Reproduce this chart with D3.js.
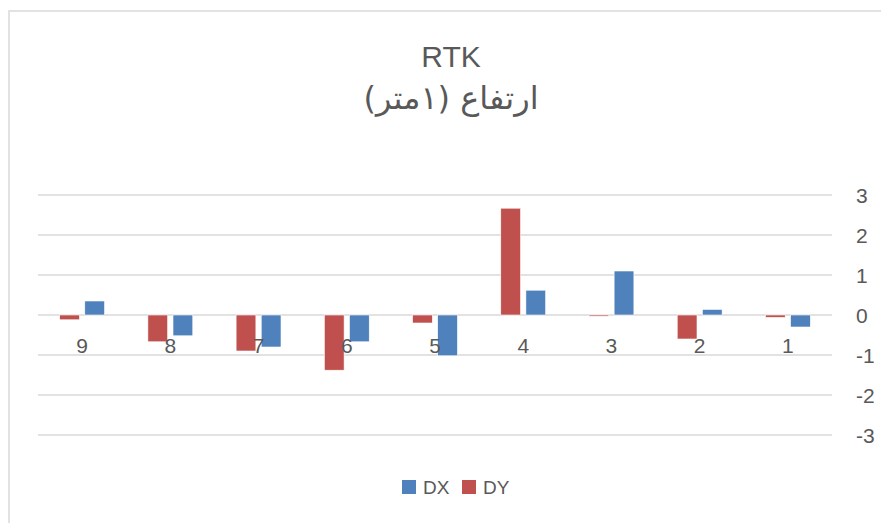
<!DOCTYPE html>
<html>
<head>
<meta charset="utf-8">
<script src="https://cdn.jsdelivr.net/npm/d3@7"></script>
<style>
  html, body { margin: 0; padding: 0; background: #fff; }
  svg { display: block; }
  text { font-family: "Liberation Sans", Arial, sans-serif; fill: #595959; }
</style>
</head>
<body>
<div id="chart"></div>
<script>
const categories = ["1", "2", "3", "4", "5", "6", "7", "8", "9"];
const seriesNames = ["DX", "DY"];
const dxValues = [-0.3, 0.14, 1.1, 0.62, -1.02, -0.67, -0.8, -0.52, 0.35];
const dyValues = [-0.06, -0.6, -0.03, 2.67, -0.2, -1.38, -0.9, -0.67, -0.12];
const yTicks = [-3, -2, -1, 0, 1, 2, 3];
const titleText = "RTK";
const subtitleText = "ارتفاع (١متر)";
const colors = { DX: "#4f81bd", DY: "#c0504d" };

const W = 881, H = 523;
const svg = d3.select("#chart").append("svg").attr("width", W).attr("height", H);

// chart border
svg.append("rect").attr("x", 9).attr("y", 11).attr("width", W + 10).attr("height", H + 10)
  .attr("fill", "none").attr("stroke", "#d9d9d9").attr("stroke-width", 1.5);

const plot = { left: 38, right: 832, top: 195, bottom: 435 };

// reversed category axis (right-to-left)
const x = d3.scaleBand().domain(categories.slice().reverse())
  .range([plot.left, plot.right]).paddingInner(0).paddingOuter(0);
const y = d3.scaleLinear().domain([-3, 3]).range([plot.bottom, plot.top]);

// gridlines
svg.append("g").selectAll("line").data(yTicks).join("line")
  .attr("x1", plot.left).attr("x2", plot.right)
  .attr("y1", d => y(d)).attr("y2", d => y(d))
  .attr("stroke", "#d9d9d9").attr("stroke-width", 1.3);

// right y axis labels
const yAxis = d3.axisRight(y).tickValues(yTicks).tickSize(0).tickPadding(0)
  .tickFormat(d => (d < 0 ? "-" + Math.abs(d) : String(d)));
const gy = svg.append("g").attr("transform", `translate(856,0)`).call(yAxis);
gy.select(".domain").remove();
gy.selectAll("text").attr("font-size", 21).attr("fill", "#595959")
  .attr("font-family", "Liberation Sans, Arial, sans-serif").attr("dy", "0.36em");

// bars
const w = x.bandwidth() / 4.46;
const gapHalf = 0.135 * w;
const data = categories.map((c, i) => ({ cat: c, DX: dxValues[i], DY: dyValues[i] }));
const barG = svg.append("g");
data.forEach(d => {
  const cx = x(d.cat) + x.bandwidth() / 2;
  // DY drawn left, DX right (reversed order)
  [["DY", cx - gapHalf - w], ["DX", cx + gapHalf]].forEach(([s, bx]) => {
    const v = d[s];
    barG.append("rect")
      .attr("x", bx).attr("width", w)
      .attr("y", Math.min(y(v), y(0))).attr("height", Math.abs(y(v) - y(0)))
      .attr("fill", colors[s]).attr("stroke", "#ffffff").attr("stroke-width", 0.6);
  });
});

// category labels near zero line
const xAxis = d3.axisBottom(x).tickSize(0).tickPadding(0);
const gx = svg.append("g").attr("transform", `translate(0,${y(0)})`).call(xAxis);
gx.select(".domain").remove();
gx.selectAll("text").attr("font-size", 21).attr("fill", "#595959")
  .attr("font-family", "Liberation Sans, Arial, sans-serif").attr("dy", "1.82em");

// titles
svg.append("text").attr("x", 451).attr("y", 67).attr("text-anchor", "middle")
  .attr("font-size", 30).text(titleText);
svg.append("text").attr("x", 451).attr("y", 109).attr("text-anchor", "middle")
  .attr("direction", "rtl").attr("font-size", 32)
  .style("font-family", "'DejaVu Sans', sans-serif").text(subtitleText);

// legend
const legend = svg.append("g");
const legendItems = [{ name: seriesNames[0], x: 402 }, { name: seriesNames[1], x: 462 }];
legendItems.forEach(it => {
  legend.append("rect").attr("x", it.x).attr("y", 480).attr("width", 14).attr("height", 14)
    .attr("fill", colors[it.name]);
  legend.append("text").attr("x", it.x + 21).attr("y", 494).attr("font-size", 19).text(it.name);
});
</script>
</body>
</html>
